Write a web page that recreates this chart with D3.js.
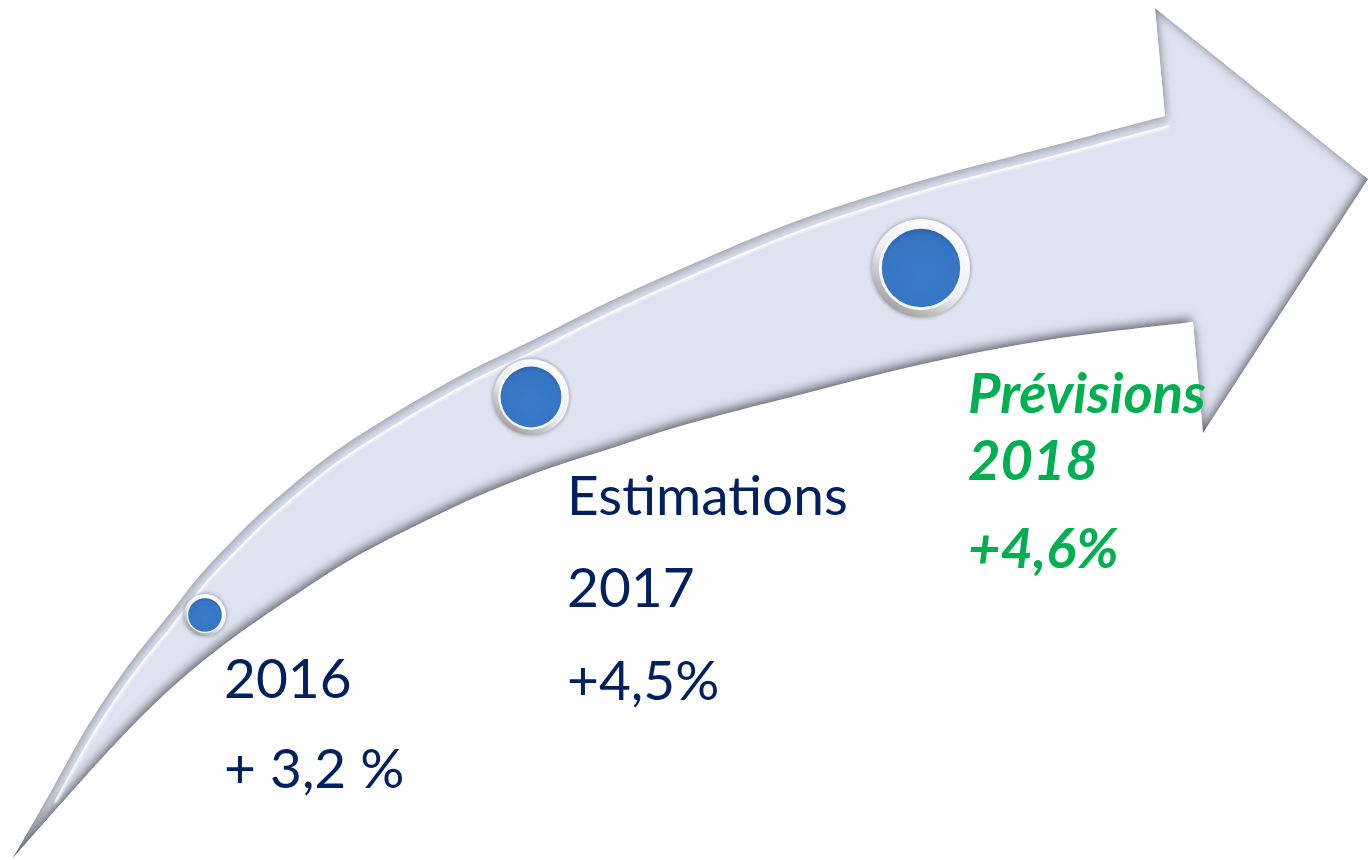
<!DOCTYPE html>
<html>
<head>
  <meta charset="UTF-8">
  <style>
    body { margin: 0; background: #fff; }
    svg { display: block; }
    .lbl { font-family: Lato, 'Open Sans', sans-serif; font-size: 55px; fill: #002060; }
    .lbl.fc { fill: #00b050; font-weight: bold; font-style: italic; font-size: 56px; }
  </style>
</head>
<body>
<svg></svg>
<script src="https://d3js.org/d3.v7.min.js"></script>
<script>

// ---- data
const years = ["2016", "2017", "2018"];
const stages = ["", "Estimations", "Prévisions"];
const growth = [3.2, 4.5, 4.6];
const growthLabels = ["+ 3,2 %", "+4,5%", "+4,6%"];
const forecast = [false, false, true];

let width = 1368, height = 860;

let svg = d3.select("svg")
    .attr("width", width)
    .attr("height", height)
    .attr("viewBox", "0 0 " + width + " " + height);

// ---- arrow outline (decoration)
const topEdge = [[13,858],[50,793],[87,727],[127,667],[167,617],[200,575],[233,540],[267,507],[333,453],[400,410],[467,372],[533,340],[600,306],[674,272],[799,220],[923,180],[1048,147],[1165,116]];
const botEdge = [[13,858],[67,797],[117,742],[167,692],[217,650],[267,614],[300,592],[350,560],[417,525],[483,494],[550,468],[600,452],[674,428],[799,395],[923,364],[1048,340],[1193,322]];
const head = [[1193,322],[1203,433],[1368,179],[1155,8],[1165,116]];

let curve = d3.line().curve(d3.curveCatmullRom.alpha(0.5));
let arrowD = curve(topEdge)
    + "L" + head.slice().reverse().slice(1).map(p => p.join(",")).join("L")
    + "L" + curve(botEdge.slice().reverse()).slice(1) + "Z";

let defs = svg.append("defs");

let bevel = defs.append("filter").attr("id", "bevel")
    .attr("x", "-5%").attr("y", "-5%").attr("width", "110%").attr("height", "110%");
bevel.append("feGaussianBlur").attr("in", "SourceAlpha").attr("stdDeviation", 5).attr("result", "b");
bevel.append("feOffset").attr("in", "b").attr("dx", -2).attr("dy", -5).attr("result", "bo");
bevel.append("feComposite").attr("in", "SourceAlpha").attr("in2", "bo")
    .attr("operator", "arithmetic").attr("k2", 1).attr("k3", -1).attr("result", "darkRim");
bevel.append("feFlood").attr("flood-color", "#6b6e78");
bevel.append("feComposite").attr("in2", "darkRim").attr("operator", "in").attr("result", "dark");
bevel.append("feOffset").attr("in", "b").attr("dx", 2).attr("dy", 4).attr("result", "bo2");
bevel.append("feComposite").attr("in", "SourceAlpha").attr("in2", "bo2")
    .attr("operator", "arithmetic").attr("k2", 1).attr("k3", -1).attr("result", "lightRim");
bevel.append("feFlood").attr("flood-color", "#a7aab4");
bevel.append("feComposite").attr("in2", "lightRim").attr("operator", "in").attr("result", "light");
let m = bevel.append("feMerge");
m.append("feMergeNode").attr("in", "SourceGraphic");
m.append("feMergeNode").attr("in", "light");
m.append("feMergeNode").attr("in", "dark");

defs.append("filter").attr("id", "soft")
    .append("feGaussianBlur").attr("stdDeviation", 1.6);

defs.append("clipPath").attr("id", "arrowClip")
    .append("path").attr("d", arrowD);

// ring + dot gradients
let ring = defs.append("linearGradient").attr("id", "ring")
    .attr("x1", "80%").attr("y1", "5%").attr("x2", "20%").attr("y2", "95%");
ring.append("stop").attr("offset", "0%").attr("stop-color", "#ffffff");
ring.append("stop").attr("offset", "55%").attr("stop-color", "#eeeeee");
ring.append("stop").attr("offset", "100%").attr("stop-color", "#9c9c9c");

let dot = defs.append("radialGradient").attr("id", "dot")
    .attr("cx", "50%").attr("cy", "60%").attr("r", "60%");
dot.append("stop").attr("offset", "0%").attr("stop-color", "#3a7cca");
dot.append("stop").attr("offset", "85%").attr("stop-color", "#3575c2");
dot.append("stop").attr("offset", "100%").attr("stop-color", "#2c63a8");

let arrow = svg.append("g");
arrow.append("path")
    .attr("d", arrowD)
    .attr("fill", "#dee2f1")
    .attr("filter", "url(#bevel)");

// white highlight just inside the upper edge
arrow.append("path")
    .attr("d", curve(topEdge.slice(1)))
    .attr("transform", "translate(4,9)")
    .attr("fill", "none")
    .attr("stroke", "#ffffff")
    .attr("stroke-width", 5)
    .attr("clip-path", "url(#arrowClip)")
    .attr("filter", "url(#soft)");

// ---- markers
const idx = years.map((d, i) => i);
let xPos = d3.scaleOrdinal(years, [205, 531, 921]);
let yPos = d3.scaleOrdinal(years, [615, 397, 268]);
let rOuter = d3.scaleOrdinal(years, [21, 38, 49]);

let mk = svg.append("g").selectAll("g")
    .data(years)
    .join("g")
    .attr("transform", d => "translate(" + xPos(d) + "," + yPos(d) + ")");

mk.append("circle")
    .attr("r", d => rOuter(d) + 1.5)
    .attr("fill", "#8f939e")
    .attr("opacity", 0.55)
    .attr("filter", "url(#soft)");
mk.append("circle")
    .attr("r", d => rOuter(d))
    .attr("fill", "url(#ring)");
mk.append("circle")
    .attr("r", d => rOuter(d) * 0.86)
    .attr("fill", "#f7f7f7");
mk.append("circle")
    .attr("r", d => rOuter(d) * 0.8)
    .attr("fill", "url(#dot)");

// ---- labels
let labelX = d => xPos(d) + rOuter(d) - 2;
let labelY = d3.scaleOrdinal(years, [698, 515, 413]);
const lineGaps = [[0, 90], [0, 92, 185], [0, 67, 155]];

let lines = [];
idx.forEach(i => {
    let txt = (stages[i] ? [stages[i]] : []).concat([years[i], growthLabels[i]]);
    txt.forEach((t, j) => lines.push({ year: years[i], text: t, fc: forecast[i], dy: lineGaps[i][j] }));
});

svg.append("g").selectAll("text")
    .data(lines)
    .join("text")
    .attr("class", d => d.fc ? "lbl fc" : "lbl")
    .attr("x", d => labelX(d.year))
    .attr("y", d => labelY(d.year) + d.dy)
    .text(d => d.text);

</script>
</body>
</html>
